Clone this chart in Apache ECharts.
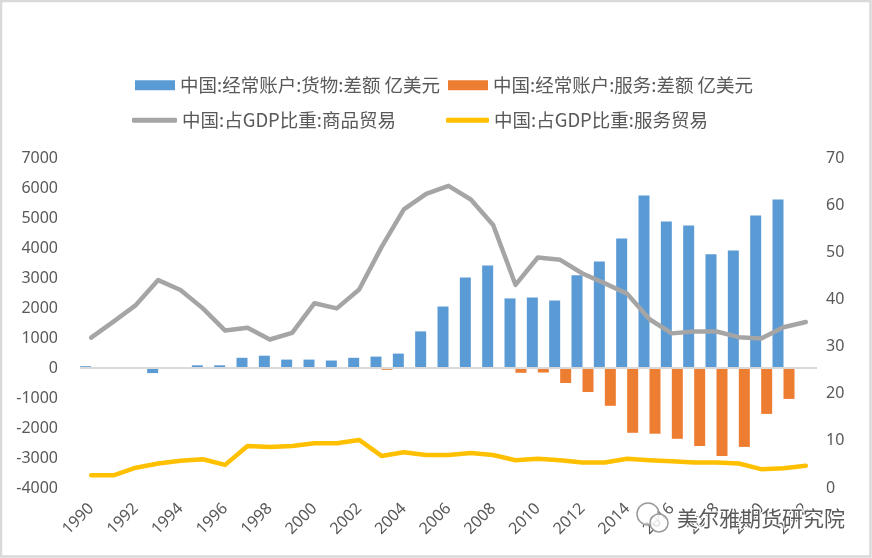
<!DOCTYPE html>
<html>
<head>
<meta charset="utf-8">
<script src="https://cdn.jsdelivr.net/npm/echarts@6/dist/echarts.min.js"></script>
<style>
html,body{margin:0;padding:0;background:#fff;}
#chart{width:872px;height:558px;}
</style>
</head>
<body>
<div id="chart"></div>
<script>
const years = ['1990','1991','1992','1993','1994','1995','1996','1997','1998','1999','2000','2001','2002','2003','2004','2005','2006','2007','2008','2009','2010','2011','2012','2013','2014','2015','2016','2017','2018','2019','2020','2021','2022'];
const goodsBalance = [60,null,null,-170,null,90,90,340,410,280,280,250,340,380,480,1220,2050,3020,3420,2320,2350,2250,3090,3550,4320,5750,4880,4750,3790,3920,5080,5620,null];
const servicesBalance = [null,null,null,null,null,null,null,null,null,null,null,null,null,-60,null,null,null,null,null,-160,-150,-500,-800,-1260,-2160,-2190,-2360,-2600,-2930,-2630,-1530,-1030,null];
const goodsTradeGdp = [31.9,35.3,38.8,44.1,42.0,38.1,33.4,34.0,31.5,32.9,39.2,38.1,42.1,51.1,59.1,62.4,64.1,61.2,55.8,43.1,48.9,48.4,45.5,43.4,41.2,35.8,32.8,33.2,33.2,32.0,31.7,34.1,35.2];
const servicesTradeGdp = [2.7,2.7,4.3,5.2,5.8,6.1,4.9,8.9,8.7,8.9,9.5,9.5,10.2,6.8,7.6,7.0,7.0,7.4,7.0,5.9,6.2,5.9,5.4,5.4,6.2,5.9,5.7,5.4,5.4,5.2,4.0,4.2,4.7];
const names = ['中国:经常账户:货物:差额 亿美元','中国:经常账户:服务:差额 亿美元','中国:占GDP比重:商品贸易','中国:占GDP比重:服务贸易'];

const FONT = '"Noto Sans", "Noto Sans CJK SC", sans-serif';
const CJK = '"Noto Sans CJK SC", "Noto Sans", sans-serif';
const chart = echarts.init(document.getElementById('chart'));
const legendText = {color:'#595959', fontSize:18.5, fontFamily: CJK};
chart.setOption({
  animation:false,
  textStyle:{fontFamily:FONT},
  legend:[
    {data:[names[0]], left:130, top:71, itemWidth:40, itemHeight:10, icon:'rect', textStyle:legendText},
    {data:[names[1]], left:443, top:71, itemWidth:40, itemHeight:10, icon:'rect', textStyle:legendText},
    {data:[names[2]], left:127, top:106, itemWidth:45, itemHeight:5, icon:'roundRect', textStyle:legendText},
    {data:[names[3]], left:441, top:106, itemWidth:43, itemHeight:5, icon:'roundRect', textStyle:legendText}
  ],
  grid:{left:80, right:55, top:158, bottom:70},
  xAxis:{
    type:'category', data:years, boundaryGap:true,
    axisLine:{show:false, onZero:false}, axisTick:{show:false},
    axisLabel:{interval:1, rotate:45, fontSize:16, color:'#595959', margin:18, fontFamily:FONT}
  },
  yAxis:[
    {type:'value', min:-4000, max:7000, interval:1000, splitLine:{show:false},
     axisLine:{show:false}, axisTick:{show:false},
     axisLabel:{fontSize:16, color:'#595959', margin:22, fontFamily:FONT, formatter:function(v){return String(v);}}},
    {type:'value', min:0, max:70, interval:10, splitLine:{show:false},
     axisLine:{show:false}, axisTick:{show:false},
     axisLabel:{fontSize:16, color:'#595959', margin:9, fontFamily:FONT}}
  ],
  series:[
    {name:names[0], type:'bar', data:goodsBalance, barGap:'0%', barCategoryGap:'1.5%',
     itemStyle:{color:'#5B9BD5'},
     markLine:{silent:true, symbol:['none','none'], label:{show:false},
       lineStyle:{color:'#D9D9D9', width:2, type:'solid'}, data:[{yAxis:0}]}},
    {name:names[1], type:'bar', data:servicesBalance, barGap:'0%', barCategoryGap:'1.5%',
     itemStyle:{color:'#ED7D31'}},
    {name:names[2], type:'line', yAxisIndex:1, data:goodsTradeGdp, showSymbol:false, symbol:'none',
     lineStyle:{color:'#A5A5A5', width:4.5, cap:'round', join:'round'}, itemStyle:{color:'#A5A5A5'}, z:3},
    {name:names[3], type:'line', yAxisIndex:1, data:servicesTradeGdp, showSymbol:false, symbol:'none',
     lineStyle:{color:'#FFC000', width:4.5, cap:'round', join:'round'}, itemStyle:{color:'#FFC000'}, z:3}
  ],
  graphic:[
    {type:'rect', shape:{x:1, y:1, width:869.5, height:555.5}, style:{fill:'none', stroke:'#D9D9D9', lineWidth:2.5}, z:100},
    {type:'circle', shape:{cx:648, cy:514, r:11}, style:{fill:'rgba(255,255,255,0.6)', stroke:'#9a9a9a', lineWidth:1.5}, z:101},
    {type:'circle', shape:{cx:659, cy:523, r:9}, style:{fill:'rgba(255,255,255,0.8)', stroke:'#9a9a9a', lineWidth:1.5}, z:102},
    {type:'text', left:676, top:507, style:{text:'美尔雅期货研究院', fontSize:21, fontFamily:CJK, fill:'#5a5a5a', stroke:'#ffffff', lineWidth:2}, z:103}
  ]
});
</script>
</body>
</html>
